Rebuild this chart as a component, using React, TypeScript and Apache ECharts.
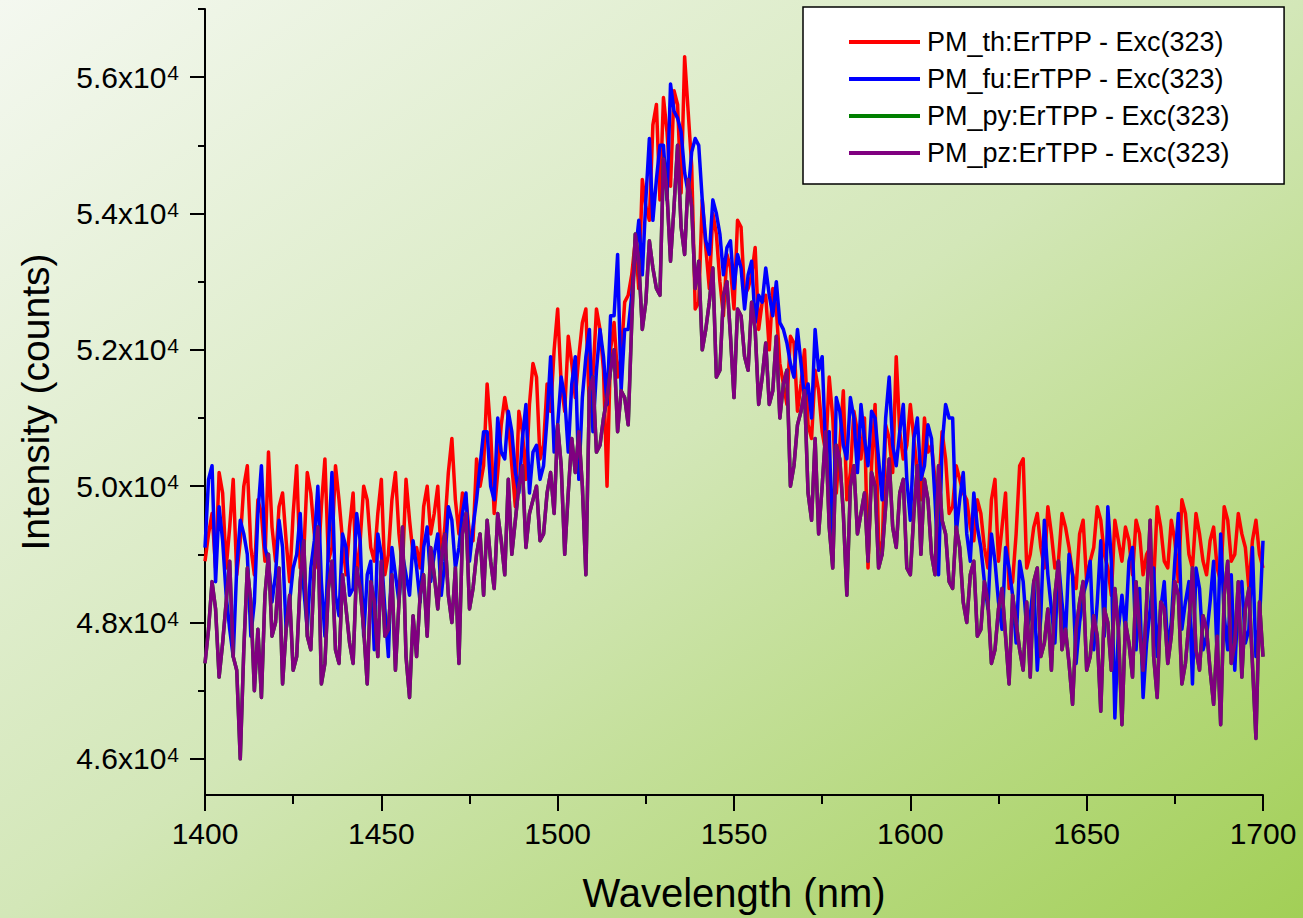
import React, { useEffect, useRef } from 'react';
import * as echarts from 'echarts';

// Sampling grid of the spectra (nm): even wavelengths 1400..1700, odd wavelengths 1401..1699
const WL_START = 1400;
const WL_STEP = 2;

// Intensity (counts) at even wavelengths 1400, 1402, ..., 1700 nm
const PM_TH_EVEN = [
  48900, 49600, 50200, 48800, 50100, 49200, 50300, 48700, 49600, 50500,
  48900, 49900, 48600, 50300, 49000, 49900, 48800, 50400, 49100, 49800,
  48700, 49900, 49200, 49800, 48900, 50100, 49000, 50200, 48800, 49500,
  49100, 49700, 49300, 50000, 49400, 50700, 49300, 49800, 49200, 50000,
  51500, 49600, 50900, 51000, 49700, 50800, 51200, 51600, 50600, 51100,
  52600, 51100, 51800, 51900, 52600, 51600, 52300, 50000, 52400, 51900,
  52800, 53600, 54500, 53900, 55600, 55700, 54400, 55600, 56300, 54700,
  52700, 53500, 54000, 53000, 53400, 52600, 53800, 52900, 53500, 52700,
  52000, 52600, 51500, 52200, 51100, 52000, 50700, 51400, 50500, 51000,
  50600, 49800, 51100, 50400, 48800, 51200, 49000, 50700, 51900, 50400,
  51200, 50200, 51000, 50600, 49900, 50400, 49700, 50100, 49800, 49200,
  49600, 48800, 50100, 49400, 48500, 49300, 50400, 49000, 49600, 48800,
  49300, 48900, 49400, 48700, 49300, 48600, 49100, 49500, 48800, 49500,
  48900, 49200, 49500, 48700, 49100, 49700, 48900, 49500, 48600, 49600,
  48800, 49300, 48700, 49400, 48600, 49500, 49000, 49300, 48500, 49500,
  48800,
];
// Intensity (counts) at odd wavelengths 1401, 1403, ..., 1699 nm
const PM_TH_ODD = [
  49300, 48800, 49900, 49400, 48700, 50000, 49100, 49800, 48900, 49400,
  49700, 49200, 49600, 48800, 50200, 49300, 49700, 48900, 50300, 49200,
  49400, 48600, 50000, 49100, 49600, 48700, 49800, 49300, 50100, 49000,
  48800, 50000, 49600, 48900, 50200, 49800, 49900, 49300, 50400, 50300,
  50800, 50200, 51300, 50300, 51100, 50100, 51800, 50400, 51500, 52000,
  51500, 52200, 51300, 52400, 51100, 52600, 51700, 52000, 51600, 52700,
  53100, 52900, 54100, 55300, 54200, 55200, 55800, 54300, 55500, 52600,
  54200, 52900, 53700, 52500, 53200, 53900, 52800, 53100, 52300, 52800,
  52900, 51800, 51200, 52100, 51500, 50900, 51700, 50800, 51600, 49900,
  51400, 50200, 50800, 51000, 50300, 49200, 50900, 50200, 50800, 50600,
  50700, 49800, 50500, 50100, 50800, 49600, 50300, 49900, 49400, 49800,
  49100, 49800, 48900, 49900, 48600, 50300, 48800, 49400, 49100, 49700,
  48800, 49600, 49100, 48500, 49500, 48900, 49700, 49000, 48400, 49200,
  49400, 48700, 49300, 49000, 48600, 49400, 48800, 49200, 49800, 49000,
  49600, 48900, 49200, 48800, 49700, 48900, 49600, 49100, 49200, 49000,
];

const PM_FU_EVEN = [
  49100, 50300, 49700, 48400, 47500, 49500, 49000, 48300, 50300, 48900,
  48700, 49100, 48300, 49000, 48500, 48800, 50000, 47800, 50200, 48100,
  49100, 48500, 49200, 48700, 47600, 49000, 47500, 48700, 49000, 48400,
  48800, 49100, 48600, 49300, 48900, 49500, 49100, 49900, 49400, 50300,
  50800, 49800, 50500, 51100, 50200, 50700, 49900, 50600, 50300, 51900,
  50900, 51300, 51500, 50100, 51900, 50800, 52300, 51200, 52500, 51400,
  52300, 53400, 53100, 55100, 54500, 55000, 55900, 55400, 54600, 54900,
  55000, 53600, 54200, 53700, 53500, 52900, 53200, 53100, 52400, 52700,
  52800, 53000, 52300, 51800, 52300, 51300, 51000, 51700, 50500, 48900,
  51100, 50400, 51000, 51200, 50300, 51000, 49800, 51600, 50300, 51200,
  49500, 51000, 50300, 50700, 48700, 51200, 51000, 49800, 49300, 49900,
  49100, 48200, 48900, 47900, 48800, 47700, 48600, 48100, 47300, 49500,
  48200, 48900, 47800, 48700, 48000, 48600, 47600, 49200, 49700, 46600,
  48400, 48900, 47600, 46900, 48200, 47500, 48600, 48000, 49600, 48300,
  47100, 48500, 47800, 48900, 49300, 47600, 47300, 48600, 47900, 47500,
  49200,
];
const PM_FU_ODD = [
  50100, 48600, 49200, 47900, 48800, 49300, 47800, 49600, 49100, 48300,
  49500, 47900, 48800, 49600, 47900, 49200, 48600, 49100, 48400, 49300,
  48400, 49600, 47800, 48900, 49300, 48200, 49100, 48300, 48700, 49200,
  48300, 49400, 49000, 48400, 49700, 48800, 49600, 48900, 49800, 50800,
  50000, 51000, 50400, 50800, 49900, 51200, 50500, 50100, 51000, 50500,
  51600, 50500, 51900, 51300, 52300, 51700, 51900, 52500, 53400, 52300,
  52800, 53900, 54200, 53900, 55000, 54200, 55500, 55200, 54300, 55100,
  54200, 53400, 54000, 53100, 53600, 53400, 52600, 53300, 52800, 53200,
  52500, 52400, 52100, 51600, 51800, 51500, 52300, 51900, 50800, 51300,
  50600, 51300, 50200, 50700, 51100, 50400, 51000, 50600, 50800, 50100,
  50700, 50100, 50900, 49800, 50600, 51000, 49300, 50200, 48900, 49400,
  48600, 49300, 48300, 49100, 48400, 48900, 47900, 48600, 48100, 48700,
  47700, 48300, 49000, 47400, 48400, 48900, 48300, 47800, 48900, 47900,
  47900, 49100, 48500, 47700, 48800, 48200, 47600, 48900, 47900, 48600,
  48800, 47600, 48300, 47500, 48100, 48700, 48400, 47700, 49100, 48000,
];

const PM_PZ_EVEN = [
  47400, 48600, 47200, 48300, 47500, 46000, 48800, 47000, 46900, 49000,
  48000, 47100, 48400, 47500, 49200, 47600, 49400, 47400, 48900, 47400,
  48200, 47400, 48500, 47100, 48300, 48900, 47900, 47300, 49400, 46900,
  47500, 48700, 49100, 48200, 49300, 48000, 47400, 49600, 48500, 49300,
  49500, 48500, 49200, 50100, 49500, 50300, 49600, 50000, 49300, 50200,
  50900, 49000, 50700, 50800, 48700, 51600, 50600, 51300, 52000, 51400,
  50900, 53700, 52300, 53600, 52900, 54800, 53300, 55000, 53400, 54100,
  53300, 52300, 53200, 51700, 53000, 51300, 52500, 51700, 52300, 51600,
  51200, 52200, 51500, 50000, 50900, 51400, 49500, 49300, 50800, 48800,
  50400, 48400, 50300, 49600, 48900, 50000, 49000, 50400, 49100, 50100,
  48700, 50300, 50100, 49000, 50300, 49300, 48500, 49100, 48000, 48900,
  47900, 48300, 47600, 48500, 47100, 48000, 47300, 47200, 48800, 47700,
  47300, 48900, 47900, 46800, 48300, 47300, 48100, 46700, 48000, 48500,
  46500, 47700, 48600, 47300, 49500, 46900, 48200, 47800, 48400, 47400,
  48800, 47300, 47900, 46800, 46500, 48900, 47700, 47200, 48500, 46300,
  47500,
];
const PM_PZ_ODD = [
  47900, 48200, 47700, 48900, 47300, 47600, 48300, 47900, 48400, 47800,
  48800, 47900, 47300, 48600, 47800, 48800, 47100, 48500, 47600, 48700,
  47700, 48800, 47900, 48600, 47500, 47800, 48700, 48300, 47500, 48100,
  48400, 47800, 48700, 48900, 48400, 48800, 49300, 48200, 49000, 48400,
  48900, 49600, 48700, 49000, 50000, 49100, 49800, 49200, 49900, 49600,
  50300, 49900, 50200, 50000, 51400, 50500, 51000, 51700, 50800, 51300,
  52400, 53300, 52700, 53200, 52800, 54300, 54100, 53800, 54500, 52900,
  52000, 52700, 51600, 52800, 52200, 52600, 51900, 52700, 51200, 52100,
  51400, 51000, 51700, 50300, 51100, 49900, 50700, 50000, 49400, 50600,
  49600, 50000, 49300, 49900, 50200, 48800, 49700, 49400, 49900, 48800,
  49600, 49000, 49800, 48700, 49500, 48600, 49400, 48300, 48700, 47800,
  48600, 47400, 48200, 47800, 48400, 47600, 48300, 48600, 47500, 48200,
  48400, 47600, 47400, 47900, 48600, 47500, 47800, 48200, 47300, 47900,
  48000, 47200, 47900, 48300, 47500, 48300, 47400, 48600, 47100, 48000,
  47600, 48100, 47300, 47800, 48400, 47400, 48600, 48200, 47400, 48300,
];

// The green (py) trace is fully hidden beneath the purple (pz) trace in the picture
const PM_PY_EVEN = PM_PZ_EVEN;
const PM_PY_ODD = PM_PZ_ODD;

const SERIES_NAMES = [
  'PM_th:ErTPP - Exc(323)',
  'PM_fu:ErTPP - Exc(323)',
  'PM_py:ErTPP - Exc(323)',
  'PM_pz:ErTPP - Exc(323)',
];
const SERIES_EVEN = [PM_TH_EVEN, PM_FU_EVEN, PM_PY_EVEN, PM_PZ_EVEN];
const SERIES_ODD = [PM_TH_ODD, PM_FU_ODD, PM_PY_ODD, PM_PZ_ODD];
const COLORS = ['#ff0000', '#0000ff', '#008000', '#800080'];

const X_MIN = 1400;
const X_MAX = 1700;
const X_STEP = 50;
const Y_MIN = 45470;
const Y_MAX = 57000;
const Y_MAJOR = [46000, 48000, 50000, 52000, 54000, 56000];
const Y_MINOR = [47000, 49000, 51000, 53000, 55000, 57000];

const FONT = '"Liberation Sans", Arial, Helvetica, sans-serif';

function toPairs(even: number[], odd: number[]) {
  const out: [number, number][] = [];
  even.forEach((v, i) => {
    out.push([WL_START + i * WL_STEP, v]);
    if (i < odd.length) out.push([WL_START + i * WL_STEP + WL_STEP / 2, odd[i]]);
  });
  return out;
}

export default function App() {
  const ref = useRef<HTMLDivElement>(null);

  useEffect(() => {
    if (!ref.current) return;
    const chart = echarts.init(ref.current, undefined, { renderer: 'svg' });

    const series = SERIES_NAMES.map((name, k) => ({
      name,
      type: 'line',
      data: toPairs(SERIES_EVEN[k], SERIES_ODD[k]),
      showSymbol: false,
      symbol: 'none',
      silent: true,
      color: COLORS[k],
      lineStyle: { color: COLORS[k], width: 3.5, join: 'round' },
      xAxisIndex: 0,
      yAxisIndex: 0,
      z: 2 + k,
    }));

    const axisLine = { show: true, lineStyle: { color: '#000', width: 2 } };

    chart.setOption({
      animation: false,
      backgroundColor: 'transparent',
      textStyle: { fontFamily: FONT },
      grid: { left: 205, top: 9, right: 40, bottom: 123, containLabel: false },
      legend: {
        data: SERIES_NAMES,
        orient: 'vertical',
        left: 803,
        top: 7,
        padding: [20, 54, 16, 46],
        itemWidth: 71,
        itemHeight: 4,
        itemGap: 7,
        icon: 'rect',
        backgroundColor: '#ffffff',
        borderColor: '#000000',
        borderWidth: 1.5,
        borderRadius: 0,
        selectedMode: false,
        textStyle: {
          fontSize: 27,
          fontFamily: FONT,
          color: '#000',
          lineHeight: 30,
          padding: [0, 0, 0, 2],
        },
      },
      xAxis: {
        type: 'value',
        min: X_MIN,
        max: X_MAX,
        interval: X_STEP,
        name: 'Wavelength (nm)',
        nameLocation: 'middle',
        nameGap: 78,
        nameTextStyle: { fontSize: 40, fontFamily: FONT, color: '#000' },
        axisLine,
        axisTick: { show: true, length: 16, lineStyle: { color: '#000', width: 2 } },
        minorTick: { show: true, splitNumber: 2, length: 9, lineStyle: { color: '#000', width: 2 } },
        splitLine: { show: false },
        minorSplitLine: { show: false },
        axisLabel: {
          fontSize: 30,
          fontFamily: FONT,
          color: '#000',
          margin: 23,
          formatter: (v: number) => String(v),
        },
      },
      yAxis: [
        {
          type: 'value',
          min: Y_MIN,
          max: Y_MAX,
          name: 'Intensity (counts)',
          nameLocation: 'middle',
          nameGap: 150,
          nameTextStyle: { fontSize: 39, fontFamily: FONT, color: '#000' },
          axisLine,
          axisTick: {
            show: true,
            customValues: Y_MAJOR,
            length: 15,
            lineStyle: { color: '#000', width: 2 },
          },
          splitLine: { show: false },
          axisLabel: {
            customValues: Y_MAJOR,
            margin: 26,
            color: '#000',
            formatter: (v: number) => `{m|${(v / 10000).toFixed(1)}x10}{e|4}`,
            rich: {
              m: { fontSize: 30, fontFamily: FONT, color: '#000' },
              e: { fontSize: 21, fontFamily: FONT, color: '#000', verticalAlign: 'top', padding: [0, 0, 8, 1] },
            },
          },
        },
        {
          type: 'value',
          min: Y_MIN,
          max: Y_MAX,
          position: 'left',
          axisLine: { show: false },
          axisTick: {
            show: true,
            customValues: Y_MINOR,
            length: 7,
            lineStyle: { color: '#000', width: 2 },
          },
          axisLabel: { show: false },
          splitLine: { show: false },
        },
      ],
      series,
    });

    return () => chart.dispose();
  }, []);

  return (
    <div
      style={{
        position: 'fixed',
        left: 0,
        top: 0,
        width: 1303,
        height: 918,
        background: 'linear-gradient(to bottom right, #f4f8f0 0%, #d3e7b8 50%, #a2cf56 100%)',
      }}
    >
      <div ref={ref} style={{ width: 1303, height: 918 }} />
    </div>
  );
}
